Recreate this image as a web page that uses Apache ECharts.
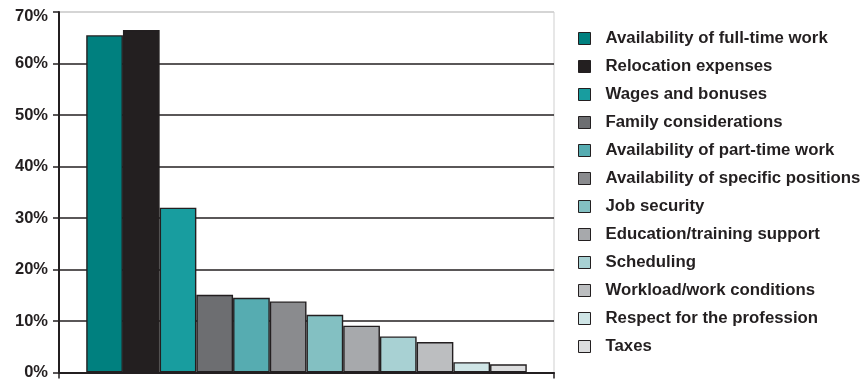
<!DOCTYPE html>
<html><head><meta charset="utf-8">
<script src="https://cdn.jsdelivr.net/npm/echarts@6/dist/echarts.min.js"></script>
<style>html,body{margin:0;padding:0;background:#fff}#c{width:863px;height:381px}</style>
</head><body><div id="c"></div>
<script>
const seriesNames = ["Availability of full-time work","Relocation expenses","Wages and bonuses","Family considerations","Availability of part-time work","Availability of specific positions","Job security","Education/training support","Scheduling","Workload/work conditions","Respect for the profession","Taxes"];
const seriesValues = [65.5, 66.5, 32.0, 15.1, 14.5, 13.8, 11.2, 9.1, 7.0, 5.9, 2.0, 1.6];
const seriesColors = ["#00807f","#231f20","#189d9f","#6d6e71","#56acb1","#8a8b8e","#83c0c2","#a7a9ac","#a8d1d3","#bcbec0","#cfe5e6","#dcddde"];
const categories = [""];
const yTicks = [0,10,20,30,40,50,60,70];

const chart = echarts.init(document.getElementById('c'), null, {renderer:'canvas'});
const font = 'Liberation Sans, Arial, sans-serif';
const yMax = yTicks[yTicks.length-1];
chart.setOption({
  animation:false,
  backgroundColor:'#fff',
  grid:{left:59,right:309,top:12,bottom:6,show:true,borderColor:'#cfcfcf',borderWidth:1,backgroundColor:'transparent'},
  legend:{
    orient:'vertical', left:578, top:30, padding:0,
    itemWidth:12, itemHeight:12, itemGap:11,
    icon:'rect',
    data: seriesNames,
    textStyle:{fontFamily:font,fontWeight:'bold',fontSize:16.8,color:'#231f20',lineHeight:16,padding:[0,0,0,10]},
    itemStyle:{borderColor:'#231f20',borderWidth:1}
  },
  xAxis:{type:'category',data:categories,
    axisLine:{lineStyle:{color:'#231f20',width:2}},
    axisTick:{show:true,length:6,lineStyle:{color:'#231f20',width:1.5}},
    axisLabel:{show:false}},
  yAxis:{type:'value',min:yTicks[0],max:yMax,interval:10,
    axisLine:{show:true,lineStyle:{color:'#231f20',width:2}},
    axisTick:{show:true,length:6,lineStyle:{color:'#231f20',width:1.5}},
    axisLabel:{formatter:v=> v===yMax ? '{t|'+v+'%}' : v+'%',fontFamily:font,fontWeight:'bold',fontSize:16.5,color:'#231f20',margin:11,
      rich:{t:{fontFamily:font,fontWeight:'bold',fontSize:16.5,color:'#231f20',padding:[8,0,0,0]}}},
    splitLine:{show:true,lineStyle:{color:['#231f20','#231f20','#231f20','#231f20','#231f20','#231f20','#231f20','#cfcfcf'],width:1.5}}},
  series: seriesNames.map((n,i)=>({
    name:n,type:'bar',data:[seriesValues[i]],
    barGap:'0%',barCategoryGap:'11%',
    itemStyle:{color:seriesColors[i],borderColor:'#231f20',borderWidth:1.4}
  }))
});
</script></body></html>
